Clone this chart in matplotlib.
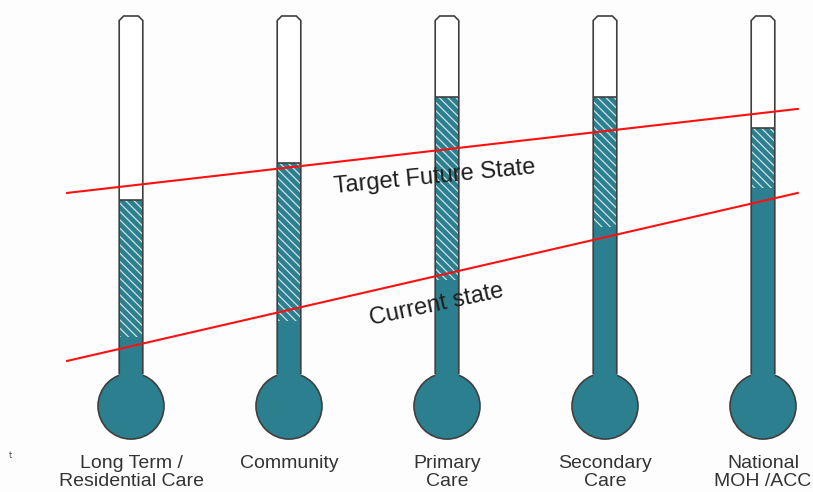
"""Thermometer chart: current vs target future state by care sector."""

import matplotlib

matplotlib.use("Agg")

import matplotlib.pyplot as plt
from matplotlib.patches import Ellipse, Polygon, Rectangle

# levels on a 0-100 scale (0 = bottom of the tube, 100 = top of the tube)
categories = ["Long Term /\nResidential Care", "Community", "Primary\nCare",
              "Secondary\nCare", "National\nMOH /ACC"]
current_level = [9.8, 14.3, 25.8, 40.7, 51.7]
target_level = [48.3, 58.7, 77.2, 77.2, 68.5]

# red trend lines, level at the left and right end of the chart
trend_x = [-0.405, 4.22]
target_line = [50.3, 73.9]
current_line = [3.1, 50.3]

TEAL = "#2b7f8e"
OUTLINE = "#3f3f3f"

# pixel scale of the drawing (data units -> pixels)
PX_X = 158.0   # pixels per category step
PX_Y = 3.56    # pixels per level unit

W, H = 813, 492
fig = plt.figure(figsize=(W / 100, H / 100), dpi=100)
fig.patch.set_facecolor("#fdfdfd")
ax = fig.add_axes([0, 0, 1, 1])
ax.set_xlim(-131 / PX_X, (W - 131) / PX_X)
ax.set_ylim((372 - H) / PX_Y, 372 / PX_Y)
ax.axis("off")

plt.rcParams["hatch.linewidth"] = 0.9

half_w = 11.8 / PX_X
bulb_r = 33.0
bulb_cy = -bulb_r / PX_Y - 0.3
chamfer_x = 4.5 / PX_X
chamfer_y = 4.5 / PX_Y

for i, (cur, tgt) in enumerate(zip(current_level, target_level)):
    # empty glass
    ax.add_patch(Rectangle((i - half_w, 0), 2 * half_w, 100,
                           facecolor="white", edgecolor="none", zorder=1))
    # bulb
    ax.add_patch(Ellipse((i, bulb_cy), 2 * bulb_r / PX_X, 2 * bulb_r / PX_Y,
                         facecolor=TEAL, edgecolor=OUTLINE, lw=1.2, zorder=2))
    # solid part = current state
    ax.bar(i, cur - bulb_cy, bottom=bulb_cy, width=2 * half_w,
           color=TEAL, edgecolor="none", zorder=3)
    # hatched part = gap to target
    ax.bar(i, tgt - cur, bottom=cur, width=2 * half_w, color=TEAL,
           edgecolor="#cfe3e7", hatch="\\\\\\\\", lw=0, zorder=3)
    ax.plot([i - half_w, i + half_w], [tgt, tgt], color=OUTLINE, lw=1.2,
            zorder=4, solid_capstyle="butt")
    # tube outline with chamfered top
    tube = [(i - half_w, -0.6), (i - half_w, 100 - chamfer_y),
            (i - half_w + chamfer_x, 100), (i + half_w - chamfer_x, 100),
            (i + half_w, 100 - chamfer_y), (i + half_w, -0.6)]
    ax.add_patch(Polygon(tube, closed=False, fill=False, edgecolor=OUTLINE,
                         lw=1.2, zorder=4))
    ax.text(i, (372 - 455) / PX_Y, categories[i], ha="center", va="top",
            fontsize=14, family="Liberation Sans", color="#333333",
            linespacing=1.1, zorder=5)

ax.plot(trend_x, target_line, color="#ff1010", lw=1.5, zorder=6)
ax.plot(trend_x, current_line, color="#ff1010", lw=1.5, zorder=6)

ax.text((435 - 131) / PX_X, (372 - 177) / PX_Y, "Target Future State",
        ha="center", va="center", rotation=5.6, rotation_mode="anchor",
        fontsize=17, family="Liberation Sans", color="#1e1e1e", zorder=7)
ax.text((437 - 131) / PX_X, (372 - 305) / PX_Y, "Current state",
        ha="center", va="center", rotation=12, rotation_mode="anchor",
        fontsize=17, family="Liberation Sans", color="#1e1e1e", zorder=7)

ax.text(10 / PX_X - 131 / PX_X, (372 - 455) / PX_Y, "t", ha="center",
        va="center", fontsize=6, color="#555555")

fig.savefig("out.png", dpi=100, facecolor=fig.get_facecolor())
